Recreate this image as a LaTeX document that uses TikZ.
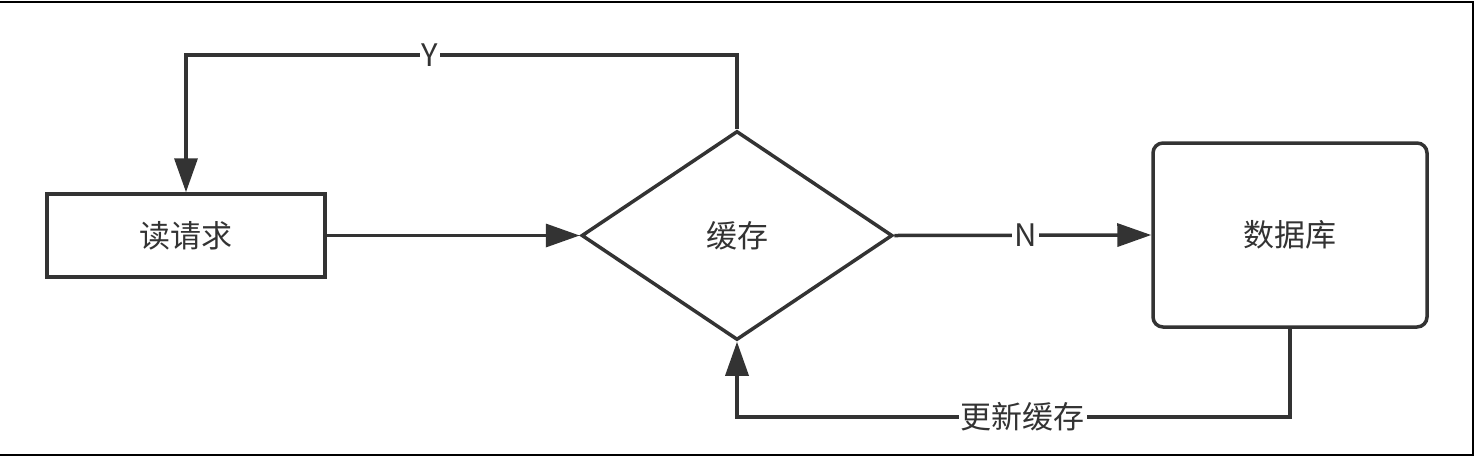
\documentclass[tikz,border=0pt]{standalone}
\usepackage{fontspec}
\setmainfont{Noto Sans CJK SC}
\usetikzlibrary{shapes.geometric,arrows.meta}
\definecolor{ink}{HTML}{333333}
\tikzset{
  box/.style={draw=ink, line width=3.5pt, text=ink, font=\fontsize{31}{36}\selectfont, inner sep=0pt, minimum width=278pt, minimum height=83pt},
  decision/.style={diamond, draw=ink, line width=3.5pt, text=ink, font=\fontsize{31}{36}\selectfont, inner sep=0pt, minimum width=311pt, minimum height=209pt},
  dbbox/.style={draw=ink, line width=3.5pt, rounded corners=10pt, text=ink, font=\fontsize{31}{36}\selectfont, inner sep=0pt, minimum width=274pt, minimum height=184pt},
  conn/.style={draw=ink, line width=3.5pt, -{Triangle[length=34pt,width=23pt]}},
  lbl/.style={fill=white, text=ink, font=\fontsize{31}{36}\selectfont, inner sep=2pt},
  frame/.style={draw=black, line width=2pt}
}
\begin{document}
\begin{tikzpicture}[x=1pt,y=-1pt]
\useasboundingbox (0,0) rectangle (1474,456);
\coordinate (tl) at (0,1.5);
\coordinate (tr) at (1472.5,1.5);
\coordinate (br) at (1472.5,454.5);
\coordinate (bl) at (0,454.5);
\draw[frame] (tl) -- (tr) -- (br) -- (bl);

\node[box] (req) at (186,235.5) {读请求};
\node[decision] (cache) at (737,235.5) {缓存};
\node[dbbox] (db) at (1290,235) {数据库};

\coordinate (ytop) at (0,55);
\coordinate (ubot) at (0,417);

\draw[conn] (req.east) -- (cache.west);
\draw[conn] (cache.east) -- node[lbl, pos=0.51]{N} (db.west);
\draw[conn] (cache.north) -- (cache.north |- ytop) -- node[lbl, pos=0.557]{Y} (req.north |- ytop) -- (req.north);
\draw[conn] (db.south) -- (db.south |- ubot) -- node[lbl, pos=0.483]{更新缓存} (cache.south |- ubot) -- (cache.south);
\end{tikzpicture}
\end{document}
